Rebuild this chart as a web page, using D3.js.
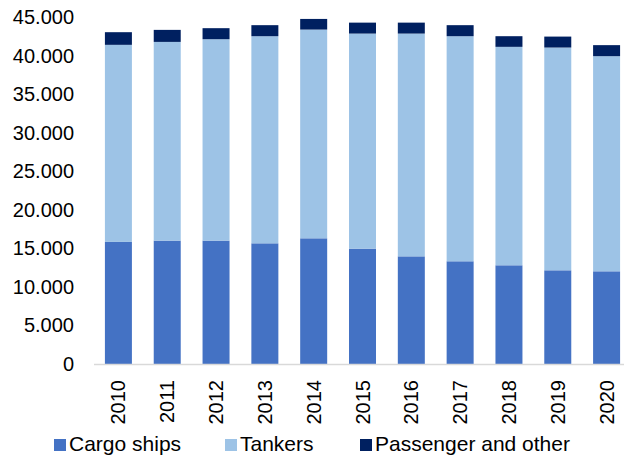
<!DOCTYPE html>
<html>
<head>
<meta charset="utf-8">
<script src="https://cdn.jsdelivr.net/npm/d3@7"></script>
<style>
  body { margin: 0; background: #fff; }
  text { font-family: "Liberation Sans", Arial, sans-serif; fill: #000; }
</style>
</head>
<body>
<div id="chart"></div>
<script>
// data
var years = ["2010","2011","2012","2013","2014","2015","2016","2017","2018","2019","2020"];
var cargo = [15830, 16000, 16000, 15650, 16300, 14960, 13960, 13320, 12800, 12150, 12020];
var tankers = [25560, 25770, 26120, 26860, 27070, 27890, 28890, 29190, 28330, 28890, 27900];
var passenger = [1640, 1560, 1430, 1430, 1380, 1420, 1420, 1430, 1380, 1420, 1430];
var yTicks = [0, 5000, 10000, 15000, 20000, 25000, 30000, 35000, 40000, 45000];
var seriesNames = ["Cargo ships", "Tankers", "Passenger and other"];
var colors = ["#4472C4", "#9DC3E6", "#002060"];

var width = 624, height = 456;

var svg = d3.select('#chart').append('svg')
            .attr('width', width)
            .attr('height', height);

var rows = years.map(function(y, i) {
  return { year: y, cargo: cargo[i], tankers: tankers[i], passenger: passenger[i] };
});
var keys = ["cargo", "tankers", "passenger"];
var stacked = d3.stack().keys(keys)(rows);

var x = d3.scaleBand()
          .domain(years)
          .range([94, 631])
          .paddingInner(0.447)
          .paddingOuter(0.2235);

var y = d3.scaleLinear()
          .domain([0, 45000])
          .range([364, 17]);

var locale = d3.formatLocale({ decimal: ",", thousands: ".", grouping: [3], currency: ["", ""] });
var fmt = locale.format(",d");

// y tick labels
svg.append('g').selectAll('text')
   .data(yTicks)
   .enter().append('text')
   .attr('x', 74)
   .attr('y', function(d) { return y(d); })
   .attr('dy', '0.35em')
   .attr('text-anchor', 'end')
   .style('font-size', '20px')
   .text(function(d) { return fmt(d); });

// bars
svg.append('g').selectAll('g')
   .data(stacked)
   .enter().append('g')
   .attr('fill', function(d, i) { return colors[i]; })
   .selectAll('rect')
   .data(function(d) { return d; })
   .enter().append('rect')
   .attr('x', function(d) { return x(d.data.year); })
   .attr('width', x.bandwidth())
   .attr('y', function(d) { return y(d[1]); })
   .attr('height', function(d) { return y(d[0]) - y(d[1]); });

// baseline
svg.append('line')
   .attr('x1', 94).attr('x2', width)
   .attr('y1', y(0) + 0.5).attr('y2', y(0) + 0.5)
   .attr('stroke', '#D9D9D9')
   .attr('stroke-width', 1.5);

// year labels, rotated
svg.append('g').selectAll('text')
   .data(years)
   .enter().append('text')
   .attr('transform', function(d) {
     return 'translate(' + (x(d) + x.bandwidth() / 2) + ',380) rotate(-90)';
   })
   .attr('dy', '0.35em')
   .attr('text-anchor', 'end')
   .style('font-size', '20px')
   .text(function(d) { return d; });

// legend
var legendX = [54, 225, 360];
var lg = svg.append('g').selectAll('g')
   .data(seriesNames)
   .enter().append('g')
   .attr('transform', function(d, i) { return 'translate(' + legendX[i] + ',0)'; });
lg.append('rect')
  .attr('x', 0).attr('y', 439)
  .attr('width', 12).attr('height', 12)
  .attr('fill', function(d, i) { return colors[i]; });
lg.append('text')
  .attr('x', 15).attr('y', 451)
  .style('font-size', '21px')
  .text(function(d) { return d; });
</script>
</body>
</html>
